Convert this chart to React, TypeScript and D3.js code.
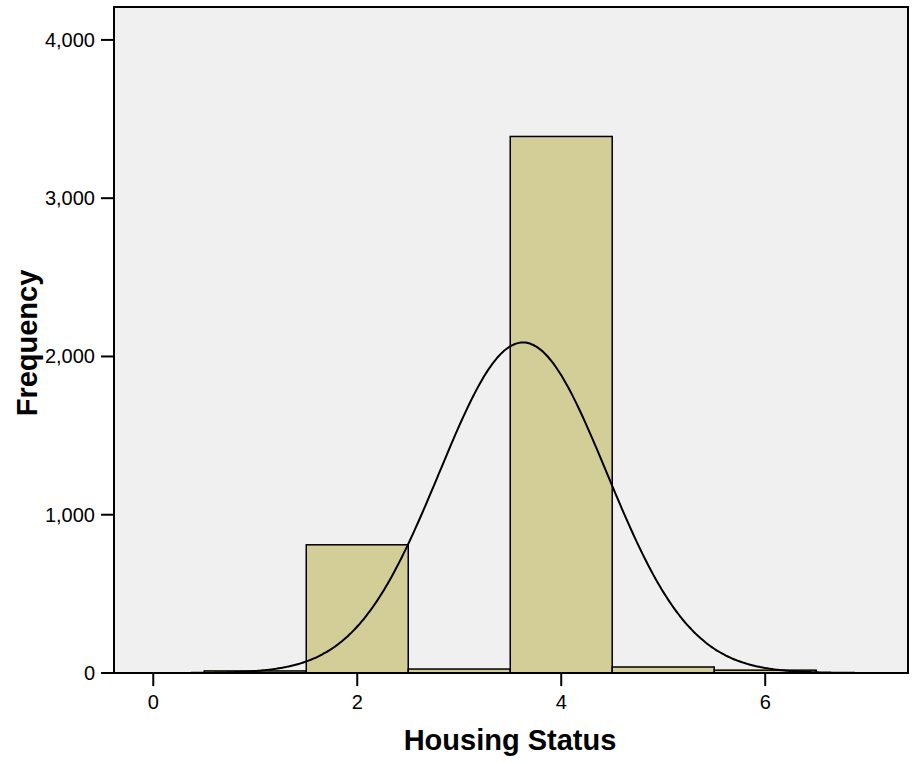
import React from "react";
import * as d3 from "d3";

const binCenters = [1, 2, 3, 4, 5, 6];
const frequencies = [13, 810, 25, 3390, 38, 18];
const yTicks = [0, 1000, 2000, 3000, 4000];
const xTicks = [0, 2, 4, 6];
const xTitle = "Housing Status";
const yTitle = "Frequency";

const W = 912;
const H = 762;
const left = 114;
const right = 908;
const top = 7;
const bottom = 673;

export default function App() {
  const x = d3.scaleLinear().domain([-0.385, 7.4]).range([left, right]);
  const y = d3.scaleLinear().domain([0, 4208]).range([bottom, top]);

  const n = d3.sum(frequencies);
  const mean = d3.sum(binCenters.map((c, i) => c * frequencies[i])) / n;
  const variance =
    d3.sum(binCenters.map((c, i) => frequencies[i] * (c - mean) ** 2)) / (n - 1);
  const sd = Math.sqrt(variance);
  const binWidth = 1;
  const pdf = (v: number) =>
    (n * binWidth * Math.exp(-0.5 * ((v - mean) / sd) ** 2)) / (sd * Math.sqrt(2 * Math.PI));
  const xs = d3.range(0, 401).map((i) => -0.385 + (i / 400) * (7.4 + 0.385));
  const line = d3
    .line<number>()
    .x((v) => x(v))
    .y((v) => y(pdf(v)))
    .curve(d3.curveBasis);

  const font = "'Liberation Sans', Arial, Helvetica, sans-serif";

  return (
    <svg
      width={W}
      height={H}
      style={{ position: "absolute", left: 0, top: 0, background: "#fff" }}
      fontFamily={font}
    >
      <rect x={left} y={top} width={right - left} height={bottom - top} fill="#f0f0f0" />
      <defs>
        <clipPath id="plot">
          <rect x={left} y={top} width={right - left} height={bottom - top} />
        </clipPath>
      </defs>
      <g clipPath="url(#plot)">
        {binCenters.map((c, i) => (
          <rect
            key={c}
            x={x(c - binWidth / 2)}
            y={y(frequencies[i])}
            width={x(c + binWidth / 2) - x(c - binWidth / 2)}
            height={y(0) - y(frequencies[i])}
            fill="#d3ce98"
            stroke="#000"
            strokeWidth={1.5}
          />
        ))}
        <path d={line(xs) || ""} fill="none" stroke="#000" strokeWidth={2} />
      </g>
      <rect
        x={left}
        y={top}
        width={right - left}
        height={bottom - top}
        fill="none"
        stroke="#000"
        strokeWidth={2}
      />
      {yTicks.map((t) => (
        <g key={t}>
          <line x1={left - 13} x2={left} y1={y(t)} y2={y(t)} stroke="#000" strokeWidth={2} />
          <text
            x={left - 19}
            y={y(t)}
            dy="0.35em"
            textAnchor="end"
            fontSize={20}
            fill="#000"
          >
            {d3.format(",")(t)}
          </text>
        </g>
      ))}
      {xTicks.map((t) => (
        <g key={t}>
          <line x1={x(t)} x2={x(t)} y1={bottom} y2={bottom + 13} stroke="#000" strokeWidth={2} />
          <text x={x(t)} y={bottom + 36} textAnchor="middle" fontSize={20} fill="#000">
            {t}
          </text>
        </g>
      ))}
      <text
        x={(left + right) / 2 - 1}
        y={750}
        textAnchor="middle"
        fontSize={29}
        fontWeight="bold"
        fill="#000"
      >
        {xTitle}
      </text>
      <text
        transform={`translate(37, 343) rotate(-90)`}
        textAnchor="middle"
        fontSize={29}
        fontWeight="bold"
        fill="#000"
      >
        {yTitle}
      </text>
    </svg>
  );
}
